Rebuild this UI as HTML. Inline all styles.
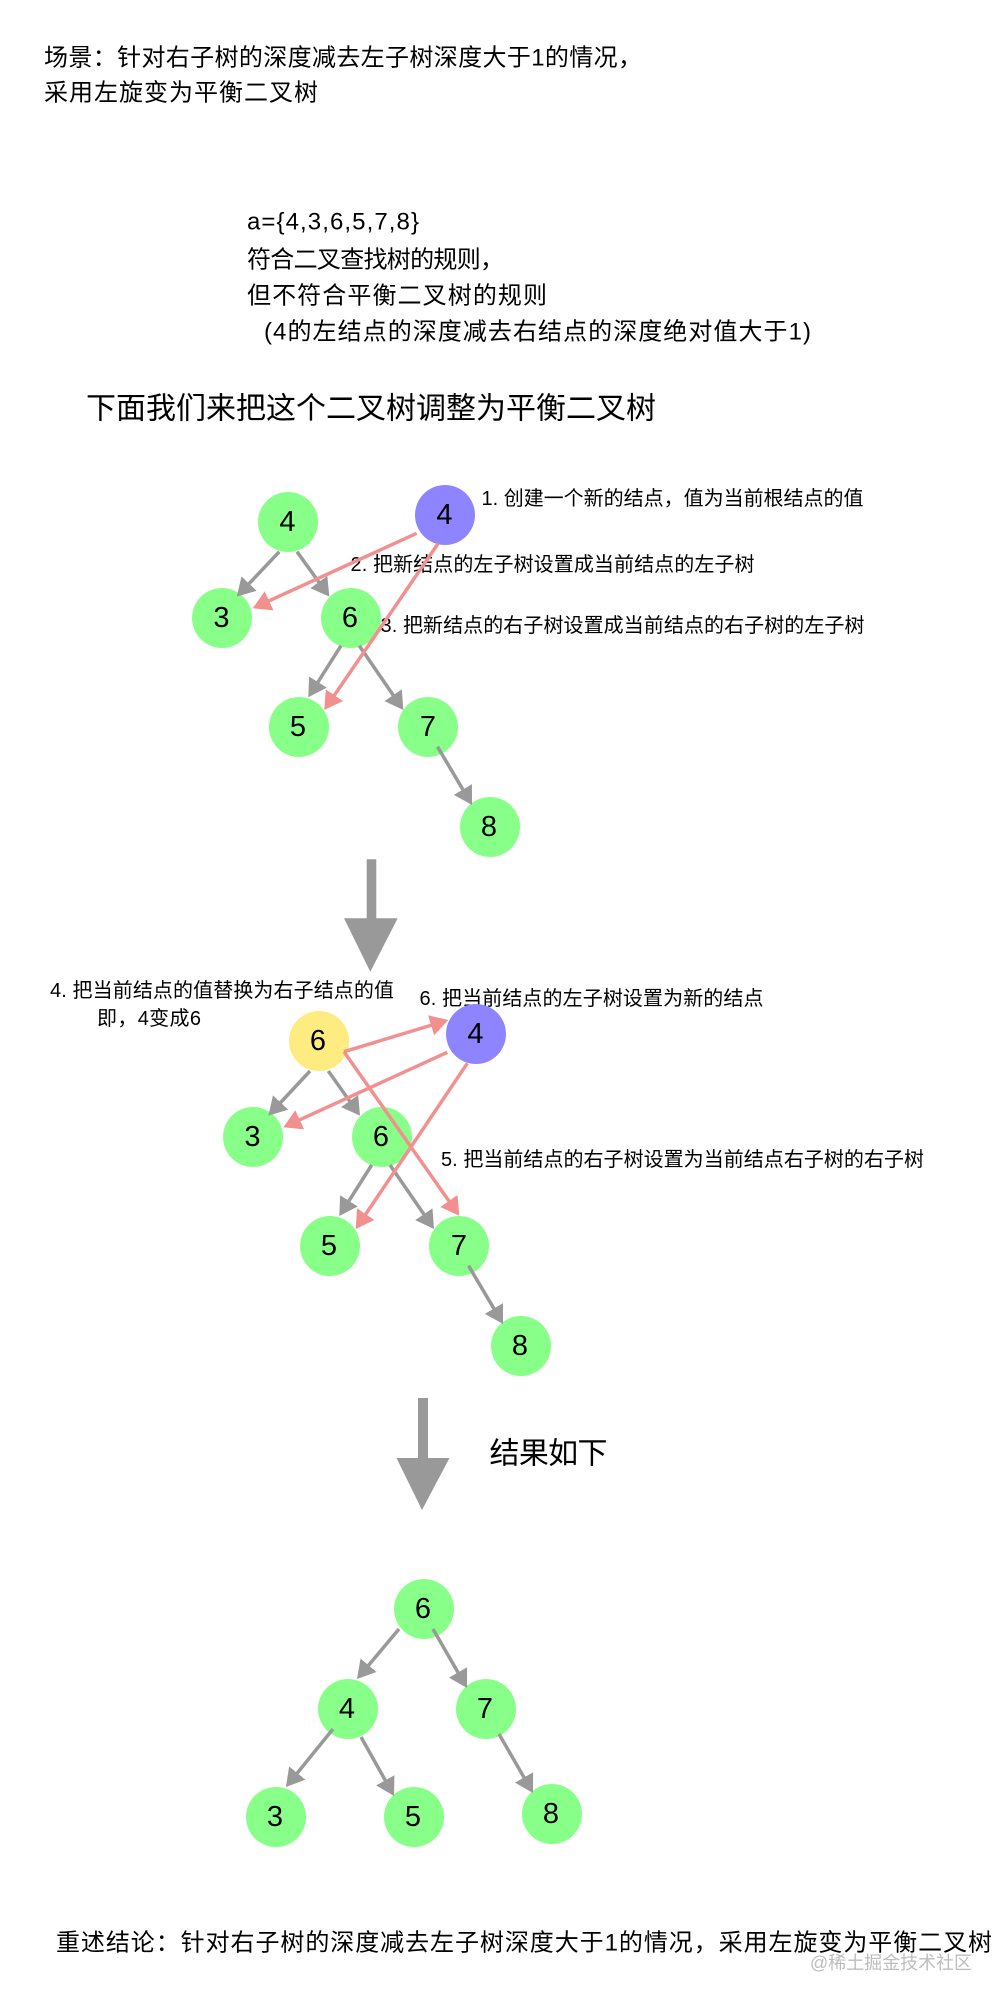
<!DOCTYPE html>
<html lang="zh"><head><meta charset="utf-8"><title>左旋</title>
<style>
html,body{margin:0;padding:0;background:#fff;width:1002px;height:2004px;overflow:hidden}
svg{display:block}
text{font-family:"Liberation Sans","WenQuanYi Zen Hei","Noto Sans CJK SC",sans-serif;fill:#000;dominant-baseline:central}
.n{font-size:29px;text-anchor:middle}
.l{font-size:20px}
.t{font-size:24px}
.g{stroke:#999;stroke-width:3.5;fill:none;marker-end:url(#ag)}
.p{stroke:#f29090;stroke-width:3.5;fill:none;marker-end:url(#ap)}
</style></head><body>
<svg xmlns="http://www.w3.org/2000/svg" width="1002" height="2004" viewBox="0 0 1002 2004">
<defs>
<marker id="ag" markerUnits="userSpaceOnUse" markerWidth="19" markerHeight="22" refX="13" refY="10.5" orient="auto"><path d="M0 0L18 10.5L0 21Z" fill="#999"/></marker>
<marker id="ap" markerUnits="userSpaceOnUse" markerWidth="19" markerHeight="22" refX="13" refY="10.5" orient="auto"><path d="M0 0L18 10.5L0 21Z" fill="#f29090"/></marker>
</defs>
<rect width="1002" height="2004" fill="#fff"/>

<text class="t" x="44" y="58" textLength="598" lengthAdjust="spacing">场景：针对右子树的深度减去左子树深度大于1的情况，</text>
<text class="t" x="44" y="93" textLength="274" lengthAdjust="spacing">采用左旋变为平衡二叉树</text>
<text class="t" x="247" y="222" textLength="172" lengthAdjust="spacing">a={4,3,6,5,7,8}</text>
<text class="t" x="247" y="260" textLength="257" lengthAdjust="spacing">符合二叉查找树的规则，</text>
<text class="t" x="247" y="296" textLength="300" lengthAdjust="spacing">但不符合平衡二叉树的规则</text>
<text class="t" x="264" y="332" textLength="547" lengthAdjust="spacing">(4的左结点的深度减去右结点的深度绝对值大于1)</text>
<text x="86" y="409" font-size="30" textLength="570" lengthAdjust="spacing">下面我们来把这个二叉树调整为平衡二叉树</text>

<!-- tree 1 -->
<text class="l" x="481.5" y="499" textLength="382" lengthAdjust="spacing">1. 创建一个新的结点，值为当前根结点的值</text>
<text class="l" x="350.5" y="565" textLength="404" lengthAdjust="spacing">2. 把新结点的左子树设置成当前结点的左子树</text>
<text class="l" x="380.5" y="626" textLength="484" lengthAdjust="spacing">3. 把新结点的右子树设置成当前结点的右子树的左子树</text>
<g fill="#88ff88">
<circle cx="288" cy="522" r="30"/><circle cx="222" cy="618" r="30"/><circle cx="351" cy="618" r="30"/>
<circle cx="299" cy="727" r="30"/><circle cx="428" cy="727" r="30"/><circle cx="490" cy="827" r="30"/>
</g>
<circle cx="445" cy="515" r="30" fill="#8f84ff"/>
<line class="g" x1="279.3" y1="551.7" x2="240.2" y2="593"/>
<line class="g" x1="297" y1="551.7" x2="326.4" y2="592.6"/>
<line class="g" x1="341" y1="645.7" x2="311" y2="693"/>
<line class="g" x1="359.3" y1="645.7" x2="400.5" y2="705.9"/>
<line class="g" x1="437.5" y1="746.7" x2="469.5" y2="800.7"/>
<line class="p" x1="416.7" y1="533.3" x2="257.3" y2="606.2"/>
<line class="p" x1="438.3" y1="543.3" x2="327.1" y2="705.9"/>
<text class="n" x="287.5" y="522">4</text><text class="n" x="444.5" y="515">4</text><text class="n" x="221.5" y="618">3</text>
<text class="n" x="350" y="618">6</text><text class="n" x="298" y="727">5</text><text class="n" x="428" y="727">7</text><text class="n" x="489" y="827">8</text>
<path d="M366.7 859.3H376.3V918.3H397.7L370.3 971.7L344 918.3H366.7Z" fill="#999"/>

<!-- tree 2 -->
<text class="l" x="50" y="991" textLength="344" lengthAdjust="spacing">4. 把当前结点的值替换为右子结点的值</text>
<text class="l" x="97" y="1019" textLength="104" lengthAdjust="spacing">即，4变成6</text>
<text class="l" x="419.5" y="999" textLength="344" lengthAdjust="spacing">6. 把当前结点的左子树设置为新的结点</text>
<text class="l" x="441" y="1160" textLength="483" lengthAdjust="spacing">5. 把当前结点的右子树设置为当前结点右子树的右子树</text>
<circle cx="319" cy="1041" r="30" fill="#ffec80"/>
<circle cx="476" cy="1034" r="30" fill="#8f84ff"/>
<g fill="#88ff88">
<circle cx="253" cy="1137" r="30"/><circle cx="382" cy="1137" r="30"/>
<circle cx="330" cy="1246" r="30"/><circle cx="459" cy="1246" r="30"/><circle cx="521" cy="1346" r="30"/>
</g>
<line class="g" x1="310" y1="1071" x2="271.8" y2="1112"/>
<line class="g" x1="328.3" y1="1071" x2="357.1" y2="1111.6"/>
<line class="g" x1="371.7" y1="1165" x2="342" y2="1211.8"/>
<line class="g" x1="390" y1="1165" x2="431.2" y2="1224.9"/>
<line class="g" x1="468.5" y1="1265.7" x2="500.5" y2="1319.7"/>
<line class="p" x1="344" y1="1051.7" x2="443.5" y2="1021.5"/>
<line class="p" x1="344" y1="1051.7" x2="456.4" y2="1211.6"/>
<line class="p" x1="447.3" y1="1052.3" x2="287.9" y2="1125.2"/>
<line class="p" x1="467.3" y1="1063.3" x2="358.5" y2="1224.9"/>
<text class="n" x="318" y="1041">6</text><text class="n" x="475.5" y="1034">4</text><text class="n" x="252.5" y="1137">3</text>
<text class="n" x="381" y="1137">6</text><text class="n" x="329" y="1246">5</text><text class="n" x="459" y="1246">7</text><text class="n" x="520" y="1346">8</text>
<path d="M418 1398H428V1458H449.5L422 1510L396.5 1458H418Z" fill="#999"/>
<text x="489.5" y="1454" font-size="30" textLength="118" lengthAdjust="spacing">结果如下</text>

<!-- tree 3 -->
<g fill="#88ff88">
<circle cx="424" cy="1609" r="30"/><circle cx="348" cy="1709" r="30"/><circle cx="486" cy="1709" r="30"/>
<circle cx="276" cy="1817" r="30"/><circle cx="414" cy="1817" r="30"/><circle cx="552" cy="1814" r="30"/>
</g>
<line class="g" x1="399" y1="1629" x2="360.2" y2="1675.2"/>
<line class="g" x1="433" y1="1629" x2="464.5" y2="1683.7"/>
<line class="g" x1="333" y1="1729" x2="289.1" y2="1783.1"/>
<line class="g" x1="361" y1="1737" x2="391.6" y2="1791.6"/>
<line class="g" x1="499" y1="1734" x2="530.5" y2="1788.7"/>
<text class="n" x="423" y="1609">6</text><text class="n" x="347" y="1709">4</text><text class="n" x="485" y="1709">7</text>
<text class="n" x="275" y="1817">3</text><text class="n" x="413" y="1817">5</text><text class="n" x="551" y="1814">8</text>

<text class="t" x="56" y="1943" textLength="936" lengthAdjust="spacing">重述结论：针对右子树的深度减去左子树深度大于1的情况，采用左旋变为平衡二叉树</text>
<text x="810" y="1963" font-size="18" textLength="162" lengthAdjust="spacing" style="fill:#bdbdbd">@稀土掘金技术社区</text>
</svg>
</body></html>
